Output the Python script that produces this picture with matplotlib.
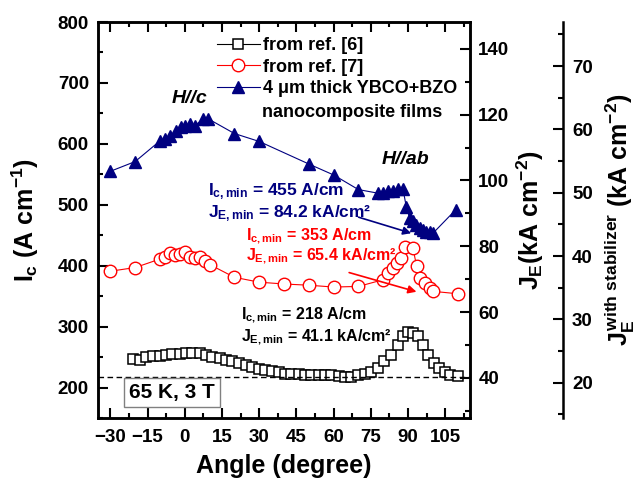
import numpy as np
import matplotlib
matplotlib.use('Agg')
import matplotlib.pyplot as plt
from matplotlib.lines import Line2D
from matplotlib.ticker import MultipleLocator

# ----------------------------------------------------------------------------------------------------------------------

plt.rcParams['font.family'] = ['Liberation Sans', 'DejaVu Sans']
plt.rcParams['font.weight'] = 'bold'
plt.rcParams['mathtext.fontset'] = 'custom'
plt.rcParams['mathtext.rm'] = 'Liberation Sans:bold'
plt.rcParams['mathtext.it'] = 'Liberation Sans:bold'
plt.rcParams['mathtext.bf'] = 'Liberation Sans:bold'

# ref. [6] - black squares
ang_ref6 = [-21, -18, -15.5, -13, -10, -7.5, -5, -2, 0.5, 3, 6, 8.5, 11, 14, 16.5, 19, 22, 24.5, 27, 30,
            32.5, 35, 38, 40.5, 43, 46, 48.5, 51, 54, 56.5, 59, 62, 64.5, 67, 70, 72.5, 75, 78, 80.5, 83,
            86, 88, 90, 92, 94, 96, 98, 100.5, 102.5, 105, 107, 110]
ic_ref6 = [247, 246, 250, 251, 252.5, 253.5, 254.5, 255.5, 257, 256, 256, 254, 250, 248, 246, 243, 240, 237, 234, 231,
           229, 227, 225, 223, 223, 222, 221, 220, 220, 220, 220, 219, 218, 217.5, 220, 223, 225, 232, 243, 254,
           270, 284, 291, 290, 284, 270, 254, 241, 232, 225, 221, 219]

# ref. [7] - red circles
ang_ref7 = [-30, -20, -10, -8, -6, -4, -2, 0, 2, 4, 6, 8, 10, 20, 30, 40, 50, 60, 70, 80,
            82, 84, 85.5, 87, 89, 92, 93.5, 95, 97, 99, 100, 110]
ic_ref7 = [391, 397, 411, 415, 421, 418, 419, 422, 415, 413, 414, 407, 402, 381, 373, 370, 368, 365, 366, 377,
           388, 396, 404, 413, 431, 429, 399, 380, 372, 363, 358, 354]

# 4 um thick YBCO+BZO - navy triangles
ang_bzo = [-30, -20, -10, -8, -6, -3.5, -1.5, 0, 2, 4, 7.5, 9.5, 20, 30, 50, 60, 70,
           78, 80, 82, 84, 86, 88, 89.3, 90.7, 92, 93.3, 94.7, 96, 97.3, 98.7, 100, 109.3]
ic_bzo = [555, 571, 605, 608, 613, 621, 627, 630, 632, 630, 641, 641, 617, 604, 567, 549, 525,
          519, 520, 522, 522, 526, 526, 497, 478, 473, 467, 462, 459, 456, 455, 453, 492]

ic_min_line = 218
je_factor = 5.4       # Ic (A/cm) -> JE (kA/cm2)
stab_factor = 1.925   # JE -> JE with stabilizer

ic_lim = (150, 800)
ang_lim = (-35, 115)

navy = '#000080'
red = '#ff0000'

# ----------------------------------------------------------------------------------------------------------------------

def style_ticks(a, pad=6.5, **kw):
    a.tick_params(which='major', direction='in', length=7, width=1.5, labelsize=13.5, pad=pad, **kw)
    a.tick_params(which='minor', direction='in', length=3.5, width=1.5, **kw)


fig = plt.figure(figsize=(6.43, 4.79), dpi=100)
ax = fig.add_axes([0.1524, 0.1273, 0.5785, 0.8267])

ax.plot(ang_ref6, ic_ref6, color='black', lw=0.8, marker='s', ms=7.5, mfc='white', mec='black', mew=1.1)
ax.plot(ang_ref7, ic_ref7, color=red, lw=0.8, marker='o', ms=9, mfc='white', mec=red, mew=1.0)
ax.plot(ang_bzo, ic_bzo, color=navy, lw=0.8, marker='^', ms=9, mfc=navy, mec=navy)

ax.axhline(ic_min_line, color='black', lw=1.0, ls=(0, (4, 2.5)))

ax.set_xlim(*ang_lim)
ax.set_ylim(*ic_lim)
ax.xaxis.set_major_locator(MultipleLocator(15))
ax.xaxis.set_minor_locator(MultipleLocator(7.5))
ax.yaxis.set_major_locator(MultipleLocator(100))
ax.yaxis.set_minor_locator(MultipleLocator(50))
ax.set_yticks([200, 300, 400, 500, 600, 700, 800])
style_ticks(ax, top=True, right=False)
ax.tick_params(axis='x', which='major', pad=8)
for s in ax.spines.values():
    s.set_linewidth(1.8)

ax.set_xlabel('Angle (degree)', fontsize=18, fontweight='bold', labelpad=6)
ax.set_ylabel(r'$I_c$ (A cm$^{-1}$)', fontsize=18, fontweight='bold', labelpad=12)

# JE axis
ax2 = ax.twinx()
ax2.set_ylim(ic_lim[0] / je_factor, ic_lim[1] / je_factor)
ax2.yaxis.set_major_locator(MultipleLocator(20))
ax2.yaxis.set_minor_locator(MultipleLocator(10))
style_ticks(ax2, pad=6)
ax2.set_yticks([40, 60, 80, 100, 120, 140])
for s in ax2.spines.values():
    s.set_linewidth(1.8)
ax2.set_ylabel(r'$J_E$(kA cm$^{-2}$)', fontsize=18, fontweight='bold', labelpad=4)

# JE with stabilizer axis
ax3 = ax.twinx()
ax3.spines['right'].set_position(('outward', 67))
for k in ['left', 'top', 'bottom']:
    ax3.spines[k].set_visible(False)
ax3.spines['right'].set_linewidth(1.8)
ax3.set_ylim(ic_lim[0] / je_factor / stab_factor, ic_lim[1] / je_factor / stab_factor)
ax3.yaxis.set_major_locator(MultipleLocator(10))
ax3.yaxis.set_minor_locator(MultipleLocator(5))
style_ticks(ax3)
ax3.set_yticks([20, 30, 40, 50, 60, 70])
ax3.set_ylabel(r'$J_E^{\rm with\ stabilizer}$ (kA cm$^{-2}$)', fontsize=18, fontweight='bold', labelpad=7)

for a in [ax, ax2, ax3]:
    for lab in a.get_xticklabels() + a.get_yticklabels():
        lab.set_fontweight('bold')

# legend
handles = [Line2D([], [], color='black', lw=0.8, marker='s', ms=7.5, mfc='white', mec='black', mew=1.1),
           Line2D([], [], color=red, lw=0.8, marker='o', ms=9, mfc='white', mec=red),
           Line2D([], [], color=navy, lw=0.8, marker='^', ms=9, mfc=navy, mec=navy)]
labels = ['from ref. [6]', 'from ref. [7]', '4 μm thick YBCO+BZO']
ax.legend(handles, labels, loc='upper left', bbox_to_anchor=(0.295, 0.985), frameon=False,
          prop={'size': 13, 'weight': 'bold'}, handlelength=2.4, handletextpad=0.15,
          labelspacing=0.25, borderpad=0)
ax.text(67.6, 652, 'nanocomposite films', fontsize=13, fontweight='bold', ha='center', va='center')

ax.text(2, 675, 'H//c', fontsize=14, fontweight='bold', style='italic', ha='center', va='center')
ax.text(89, 574, 'H//ab', fontsize=14, fontweight='bold', style='italic', ha='center', va='center')

ax.text(9.2, 522, r'$I_{c,min}$ = 455 A/cm', color=navy, fontsize=12.5, va='center')
ax.text(9.2, 486, r'$J_{E,min}$ = 84.2 kA/cm²', color=navy, fontsize=12.5, va='center')
ax.annotate('', xy=(92.4, 452), xytext=(69, 481),
            arrowprops=dict(arrowstyle='-|>', color=navy, lw=1.2, mutation_scale=12))

ax.text(24.8, 448, r'$I_{c,min}$ = 353 A/cm', color=red, fontsize=11.5, va='center')
ax.text(24.8, 416, r'$J_{E,min}$ = 65.4 kA/cm²', color=red, fontsize=11.5, va='center')
ax.annotate('', xy=(94.5, 356), xytext=(65.2, 390),
            arrowprops=dict(arrowstyle='-|>', color=red, lw=1.2, mutation_scale=12))

ax.text(22.8, 318, r'$I_{c,min}$ = 218 A/cm', color='black', fontsize=11.5, va='center')
ax.text(22.8, 282, r'$J_{E,min}$ = 41.1 kA/cm²', color='black', fontsize=11.5, va='center')

ax.text(-5.2, 192, '65 K, 3 T', fontsize=15, fontweight='bold', ha='center', va='center',
        bbox=dict(boxstyle='square,pad=0.25', fc='white', ec='#808080', lw=1.0))

fig.savefig('out.png', dpi=100)
